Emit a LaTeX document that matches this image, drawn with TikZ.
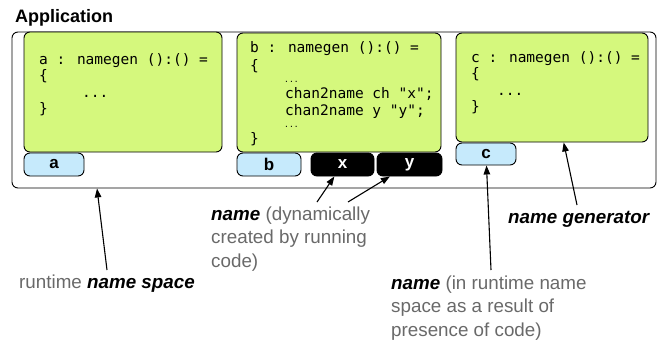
\documentclass[tikz,border=0pt]{standalone}
\usepackage{fontspec}
\setmainfont{Liberation Sans}
\newfontfamily\codefont{DejaVu Sans Mono}
\usetikzlibrary{arrows.meta}
\definecolor{codegreen}{RGB}{213,248,125}
\definecolor{namebluefill}{RGB}{198,234,252}
\definecolor{notegray}{RGB}{105,105,105}
\tikzset{
  appbox/.style={draw=black, line width=0.9pt, rounded corners=6pt, fill=white, inner sep=0pt},
  codebox/.style={draw=black, line width=0.9pt, rounded corners=6pt, fill=codegreen, inner sep=0pt},
  staticname/.style={draw=black, line width=0.9pt, rounded corners=6pt, fill=namebluefill, inner sep=0pt,
    font=\fontsize{17}{20}\selectfont\bfseries, text=black},
  dynname/.style={draw=black, line width=0.9pt, rounded corners=6pt, fill=black, inner sep=0pt,
    font=\fontsize{17}{20}\selectfont\bfseries, text=white},
  codeline/.style={anchor=base west, inner sep=0pt, font=\codefont\fontsize{14.5}{16}\selectfont},
  codedots/.style={anchor=base west, inner sep=0pt, font=\codefont\fontsize{8}{9}\selectfont},
  note/.style={anchor=base west, inner sep=0pt, align=left, text=notegray,
    font=\fontsize{18.8}{23.5}\selectfont},
  pointer/.style={draw=black, line width=1.1pt, -{Triangle[length=9pt,width=6.5pt]}}
}
\newcommand{\keyword}[1]{{\color{black}\bfseries\itshape #1}}
\begin{document}
\begin{tikzpicture}[x=1pt, y=-1pt]
  \useasboundingbox (0,0) rectangle (664,341);

  % title
  \node[anchor=base west, inner sep=0pt, font=\fontsize{18}{21}\selectfont\bfseries] (title) at (15,22.5) {Application};

  % the application's runtime name space
  \node[appbox, minimum width=644pt, minimum height=156pt] (app) at (334,110) {};

  % code blocks
  \node[codebox, minimum width=198pt, minimum height=120pt] (codeA) at (123,92) {};
  \node[codebox, minimum width=204pt, minimum height=119pt] (codeB) at (339,92.5) {};
  \node[codebox, minimum width=192pt, minimum height=109pt] (codeC) at (552,87.5) {};

  % code of a
  \node[codeline] (a1) at (39,64) {a : namegen ():() =};
  \node[codeline] (a2) at (39,80.5) {\{};
  \node[codeline] (a3) at (82,97) {...};
  \node[codeline] (a4) at (39,113.5) {\}};

  % code of b
  \node[codeline] (b1) at (250,52) {b : namegen ():() =};
  \node[codeline] (b2) at (250,70) {\{};
  \node[codedots] (b3) at (284,82) {...};
  \node[codeline] (b4) at (285,98) {chan2name ch "x";};
  \node[codeline] (b5) at (285,115) {chan2name y "y";};
  \node[codedots] (b6) at (284,127) {...};
  \node[codeline] (b7) at (250,143) {\}};

  % code of c
  \node[codeline] (c1) at (471,62) {c : namegen ():() =};
  \node[codeline] (c2) at (471,78.5) {\{};
  \node[codeline] (c3) at (497,95) {...};
  \node[codeline] (c4) at (471,111.5) {\}};

  % names
  \node[staticname, minimum width=60pt, minimum height=23pt] (nameA) at (54,164.5) {a};
  \node[staticname, minimum width=64pt, minimum height=23pt] (nameB) at (269,164.5) {b};
  \node[dynname, minimum width=63pt, minimum height=23pt] (nameX) at (342.5,164.5) {x};
  \node[dynname, minimum width=65pt, minimum height=23pt] (nameY) at (409.5,164.5) {y};
  \node[staticname, minimum width=60pt, minimum height=22pt] (nameC) at (486,154) {c};

  % notes (multi-line notes are placed by the baseline of their last line)
  \node[note] (nsNote) at (19,288) {runtime \keyword{name space}};
  \node[note] (dynNote) at (211,267) {\keyword{name} (dynamically\\created by running\\code)};
  \node[note] (staticNote) at (391,336) {\keyword{name} (in runtime name\\space as a result of\\presence of code)};
  \node[note] (genNote) at (508,223) {\keyword{name generator}};

  % pointer tails
  \coordinate (nsTail) at (107,270);
  \coordinate (nsAim) at (97,0);
  \coordinate (dynTailX) at (317,202);
  \coordinate (dynTailY) at (348,202);
  \coordinate (staticTail) at (491,270);
  \coordinate (genTail) at (577,205);

  % pointers
  \draw[pointer] (nsTail) -- (nsAim |- app.south);
  \draw[pointer] (dynTailX) -- (nameX);
  \draw[pointer] (dynTailY) -- (nameY);
  \draw[pointer] (staticTail) -- (nameC);
  \draw[pointer] (genTail) -- (codeC);
\end{tikzpicture}
\end{document}
